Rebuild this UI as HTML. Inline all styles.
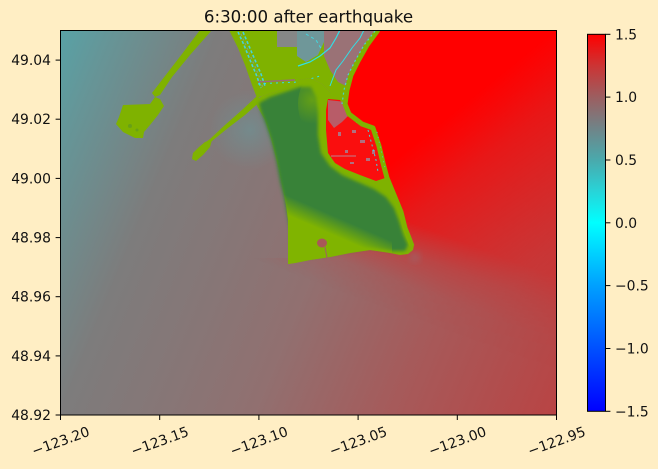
<!DOCTYPE html>
<html><head><meta charset="utf-8">
<style>
html,body{margin:0;padding:0;background:#ffeec4;}
svg{display:block;}
text{font-family:"DejaVu Sans","Liberation Sans",sans-serif;fill:#111;}
</style></head><body>
<svg width="658" height="469" viewBox="0 0 658 469" xmlns="http://www.w3.org/2000/svg">
<defs>
 <clipPath id="cp"><rect x="60.5" y="30.5" width="496" height="384.5"/></clipPath>
 <linearGradient id="base" gradientUnits="userSpaceOnUse" x1="60" y1="30" x2="619.6" y2="262.6">
  <stop offset="0" stop-color="#58a2a6"/>
  <stop offset="0.08" stop-color="#669597"/>
  <stop offset="0.244" stop-color="#7d7c7c"/>
  <stop offset="0.40" stop-color="#877676"/>
  <stop offset="0.536" stop-color="#917070"/>
  <stop offset="0.747" stop-color="#a65a5a"/>
  <stop offset="1" stop-color="#b94444"/>
 </linearGradient>
 <radialGradient id="teal" gradientUnits="userSpaceOnUse" cx="250" cy="130" r="40">
  <stop offset="0" stop-color="#62a0a4" stop-opacity="0.45"/>
  <stop offset="1" stop-color="#62a0a4" stop-opacity="0"/>
 </radialGradient>
 <linearGradient id="redf" gradientUnits="userSpaceOnUse" x1="380" y1="30" x2="682" y2="403.4">
  <stop offset="0" stop-color="#ff0000" stop-opacity="1"/>
  <stop offset="0.229" stop-color="#ff0000" stop-opacity="1"/>
  <stop offset="0.279" stop-color="#ff0000" stop-opacity="0.9"/>
  <stop offset="0.344" stop-color="#ff0000" stop-opacity="0.74"/>
  <stop offset="0.5875" stop-color="#ff0000" stop-opacity="0.3"/>
  <stop offset="0.833" stop-color="#ff0000" stop-opacity="0.08"/>
  <stop offset="1" stop-color="#ff0000" stop-opacity="0"/>
 </linearGradient>
 <linearGradient id="gm" gradientUnits="userSpaceOnUse" x1="400" y1="314" x2="431.5" y2="230">
  <stop offset="0" stop-color="#000"/>
  <stop offset="0.333" stop-color="#1a1a1a"/>
  <stop offset="0.667" stop-color="#737373"/>
  <stop offset="1" stop-color="#fff"/>
 </linearGradient>
 <mask id="rm" maskUnits="userSpaceOnUse" x="0" y="0" width="658" height="469">
  <rect x="0" y="0" width="658" height="469" fill="url(#gm)"/>
 </mask>
 <clipPath id="rc"><polygon points="368,30 556,30 556,415 60,415 60,258 288,258 300,256 330,252 370,247 395,250 406,240 400,210 385,186 350,172 330,160 322,120 335,100 345,88 356,62"/></clipPath>
 <filter id="bl" x="-20%" y="-20%" width="140%" height="140%"><feGaussianBlur stdDeviation="1.5"/></filter>
 <filter id="bl2" x="-50%" y="-50%" width="200%" height="200%"><feGaussianBlur stdDeviation="4"/></filter>
 <linearGradient id="lg" gradientUnits="userSpaceOnUse" x1="290.6" y1="216.5" x2="297.8" y2="200">
  <stop offset="0" stop-color="#80b400" stop-opacity="1"/>
  <stop offset="1" stop-color="#80b400" stop-opacity="0"/>
 </linearGradient>
 <radialGradient id="lt" gradientUnits="userSpaceOnUse" cx="312" cy="100" r="24">
  <stop offset="0" stop-color="#7fb200" stop-opacity="0.6"/>
  <stop offset="1" stop-color="#7fb200" stop-opacity="0"/>
 </radialGradient>
 <linearGradient id="cb" x1="0" y1="0" x2="0" y2="1">
  <stop offset="0" stop-color="#ff0000"/>
  <stop offset="0.0833" stop-color="#cc3434"/>
  <stop offset="0.1667" stop-color="#9c5e60"/>
  <stop offset="0.25" stop-color="#708488"/>
  <stop offset="0.333" stop-color="#4aa9ac"/>
  <stop offset="0.4167" stop-color="#28d4d8"/>
  <stop offset="0.5" stop-color="#00ffff"/>
  <stop offset="0.6667" stop-color="#00a0ff"/>
  <stop offset="0.8333" stop-color="#0050ff"/>
  <stop offset="1" stop-color="#0000ff"/>
 </linearGradient>
</defs>

<!-- title -->
<text x="308.5" y="22.5" font-size="16.67" text-anchor="middle">6:30:00 after earthquake</text>

<g clip-path="url(#cp)">
 <rect x="60" y="30" width="497" height="386" fill="url(#base)"/>
 <circle cx="250" cy="130" r="40" fill="url(#teal)"/>
 <g clip-path="url(#rc)"><rect x="60" y="30" width="497" height="386" fill="url(#redf)" mask="url(#rm)"/></g>

 <!-- Roberts Bank jetty + terminal -->
 <polygon fill="#7fb200" points="200,30 212,30 190,55 172,77 160,95 155,97 152,93 165,76 182,54"/>
 <polygon fill="#7fb200" points="123,105 150,104 155,97 160,99 164,106 158,115 150,125 144,132 143,138 135,138 123,132 116,124 119,117"/>
 <circle cx="130" cy="126" r="2" fill="#5f9a20" opacity="0.7"/>
 <circle cx="137" cy="130" r="1.5" fill="#5f9a20" opacity="0.7"/>
 <!-- Tsawwassen causeway -->
 <polygon fill="#7fb200" points="257,96 262,100 245,115 228,128 212,141 208,143 203,144 210,139 225,125 242,110"/>
 <polygon fill="#7fb200" points="205,142 212,140 210,147 203,155 196,161 192,159 193,153 199,147"/>

 <!-- northern land -->
 <polygon fill="#7fb200" points="229,30 377,30 357,61 348,85 344,100 338,100 330,92 322,84 310,78 300,80 290,86 275,92 262,96 257,98 252,85 245,65 238,48"/>
 <g fill="none" stroke="#45d2da" stroke-width="1.6" stroke-dasharray="3 2">
  <polyline points="238,32 244,45 250,60 256,74 261,88"/>
  <polyline points="243,32 249,46 255,60 261,74 265,86"/>
 </g>
 <g fill="none" stroke="#7e9a98" stroke-width="1.4" stroke-dasharray="2 3" opacity="0.8">
  <polyline points="241,34 247,48 253,62 259,76 263,88"/>
 </g>
 <rect x="277" y="30" width="20" height="17" fill="#858787"/>
 <polygon fill="#6f9799" points="297,30 324,30 324,42 318,55 306,62 297,56"/>
 <polygon fill="#9a7276" points="324,30 376,30 364,45 356,60 350,72 346,86 338,82 330,70 324,56"/>
 <polyline fill="none" stroke="#30e0e8" stroke-width="1.2" points="298,66 310,62 320,56 330,48 336,38 340,30"/>
 <polyline fill="none" stroke="#30e0e8" stroke-width="1" points="330,86 336,70 343,61 352,48 360,38 364,30"/>
 <polyline fill="none" stroke="#9b6a78" stroke-width="1.5" points="258,82 275,81 295,80"/>
 <polyline fill="none" stroke="#30e0e8" stroke-width="1" stroke-dasharray="2 4" points="258,84 275,83 300,82 320,76"/>
 <polyline fill="none" stroke="#40d8e0" stroke-width="1" stroke-dasharray="3 3" points="306,34 316,40 322,50"/>

 <!-- peninsula -->
 <polygon fill="#7fb200" points="256,100 262,96 275,92 290,86 300,80 310,78 322,84 330,92 338,98 345,100 350,112 362,124 373,128 380,150 384,165 388,180 397,200 403,215 406,230 410,239 414,245 413,250 408,254 400,255 390,253 370,250 350,253 330,257 310,260 295,263 288,264 288,220 286,205 282,185 279,170 274,150 270,135 265,120 257,106"/>
 <polygon fill="#388238" filter="url(#bl)" points="259,103 270,97 285,92 300,87 311,87 316,97 318,112 318,135 321,153 330,166 342,175 358,182 374,189 386,197 394,208 399,221 403,234 408,245 405,251 392,251 370,248 345,252 320,256 292,260 290,230 284,198 280,182 276,160 271,140 266,125 261,112"/>
 <polygon fill="url(#lg)" points="284,195 330,195 392,232 392,253 370,250 350,253 330,257 310,260 295,263 288,264 288,220 286,205"/>
 <ellipse cx="312" cy="104" rx="14" ry="26" fill="url(#lt)"/>
 <ellipse cx="322" cy="243" rx="5" ry="4.5" fill="#a85858"/>
 <line x1="325" y1="247" x2="327" y2="258" stroke="#a06060" stroke-width="1"/>

 <!-- Point Roberts -->
 <polygon fill="#fa0e0e" points="328,99 340,100 346,110 360,122 371,128 378,148 382,165 385,178 376,181 360,175 345,169 335,163 328,153 326,130 326,110"/>
 <polygon fill="#a87080" opacity="0.8" points="328,100 346,102 350,114 342,122 334,128 328,120"/>
 <g fill="#b07080">
  <rect x="352" y="130" width="4" height="3"/>
  <rect x="360" y="140" width="5" height="3"/>
  <rect x="345" y="150" width="3" height="3"/>
  <rect x="366" y="158" width="4" height="3"/>
  <rect x="338" y="132" width="3" height="4"/>
  <rect x="356" y="120" width="3" height="3"/>
  <rect x="372" y="150" width="3" height="4"/>
  <rect x="350" y="162" width="4" height="2"/>
 </g>
 <line x1="331" y1="156" x2="356" y2="156" stroke="#c08090" stroke-width="1"/>
 <polyline fill="none" stroke="#40d8e0" stroke-width="1" stroke-dasharray="2 3" points="368,130 372,145 376,160 378,172"/>

 <!-- coast strip -->
 <polyline fill="none" stroke="#7fb200" stroke-width="5" stroke-linejoin="round" points="378,30 367,45 358,61 351,75 347,90 345,104 349,114 362,124 373,128 379,146 383,163 387,178 394,195 401,212 405,228 409,238 412,246"/>
 <polyline fill="none" stroke="#40dde5" stroke-width="1.2" stroke-dasharray="2 3" opacity="0.85" points="375,31 364,45 355,61 348,75 344,90 342,104"/>
 <polyline fill="none" stroke="#40dde5" stroke-width="1" stroke-dasharray="1 4" opacity="0.7" points="377,132 381,150 385,168"/>
 <circle cx="415" cy="257" r="4" fill="#7a8a95" opacity="0.5" filter="url(#bl2)"/>
</g>

<!-- axes frame -->
<rect x="60.5" y="30.5" width="496" height="384.5" fill="none" stroke="#000" stroke-width="1"/>
<g stroke="#000" stroke-width="1">
 <line x1="55.6" y1="60.1" x2="60.5" y2="60.1"/>
 <line x1="55.6" y1="119.2" x2="60.5" y2="119.2"/>
 <line x1="55.6" y1="178.4" x2="60.5" y2="178.4"/>
 <line x1="55.6" y1="237.6" x2="60.5" y2="237.6"/>
 <line x1="55.6" y1="296.7" x2="60.5" y2="296.7"/>
 <line x1="55.6" y1="355.9" x2="60.5" y2="355.9"/>
 <line x1="55.6" y1="415" x2="60.5" y2="415"/>
 <line x1="60.5" y1="415" x2="60.5" y2="420"/>
 <line x1="159.7" y1="415" x2="159.7" y2="420"/>
 <line x1="258.9" y1="415" x2="258.9" y2="420"/>
 <line x1="358.1" y1="415" x2="358.1" y2="420"/>
 <line x1="457.3" y1="415" x2="457.3" y2="420"/>
 <line x1="556.5" y1="415" x2="556.5" y2="420"/>
</g>
<g font-size="13.9" text-anchor="end">
 <text x="51" y="65.1">49.04</text>
 <text x="51" y="124.2">49.02</text>
 <text x="51" y="183.4">49.00</text>
 <text x="51" y="242.6">48.98</text>
 <text x="51" y="301.7">48.96</text>
 <text x="51" y="360.9">48.94</text>
 <text x="51" y="420">48.92</text>
</g>
<g font-size="13.9" text-anchor="middle">
 <text transform="translate(60.5,441) rotate(-20)" y="5">−123.20</text>
 <text transform="translate(159.7,441) rotate(-20)" y="5">−123.15</text>
 <text transform="translate(258.9,441) rotate(-20)" y="5">−123.10</text>
 <text transform="translate(358.1,441) rotate(-20)" y="5">−123.05</text>
 <text transform="translate(457.3,441) rotate(-20)" y="5">−123.00</text>
 <text transform="translate(556.5,441) rotate(-20)" y="5">−122.95</text>
</g>

<!-- colorbar -->
<rect x="587.5" y="34.3" width="18" height="377" fill="url(#cb)" stroke="#000" stroke-width="1"/>
<g stroke="#000" stroke-width="1">
 <line x1="605.5" y1="34.3" x2="610.4" y2="34.3"/>
 <line x1="605.5" y1="97.1" x2="610.4" y2="97.1"/>
 <line x1="605.5" y1="160" x2="610.4" y2="160"/>
 <line x1="605.5" y1="222.8" x2="610.4" y2="222.8"/>
 <line x1="605.5" y1="285.6" x2="610.4" y2="285.6"/>
 <line x1="605.5" y1="348.5" x2="610.4" y2="348.5"/>
 <line x1="605.5" y1="411.3" x2="610.4" y2="411.3"/>
</g>
<g font-size="13.9">
 <text x="615" y="39.3">1.5</text>
 <text x="615" y="102.1">1.0</text>
 <text x="615" y="165">0.5</text>
 <text x="615" y="227.8">0.0</text>
 <text x="615" y="290.6">−0.5</text>
 <text x="615" y="353.5">−1.0</text>
 <text x="615" y="416.3">−1.5</text>
</g>
</svg>
</body></html>
